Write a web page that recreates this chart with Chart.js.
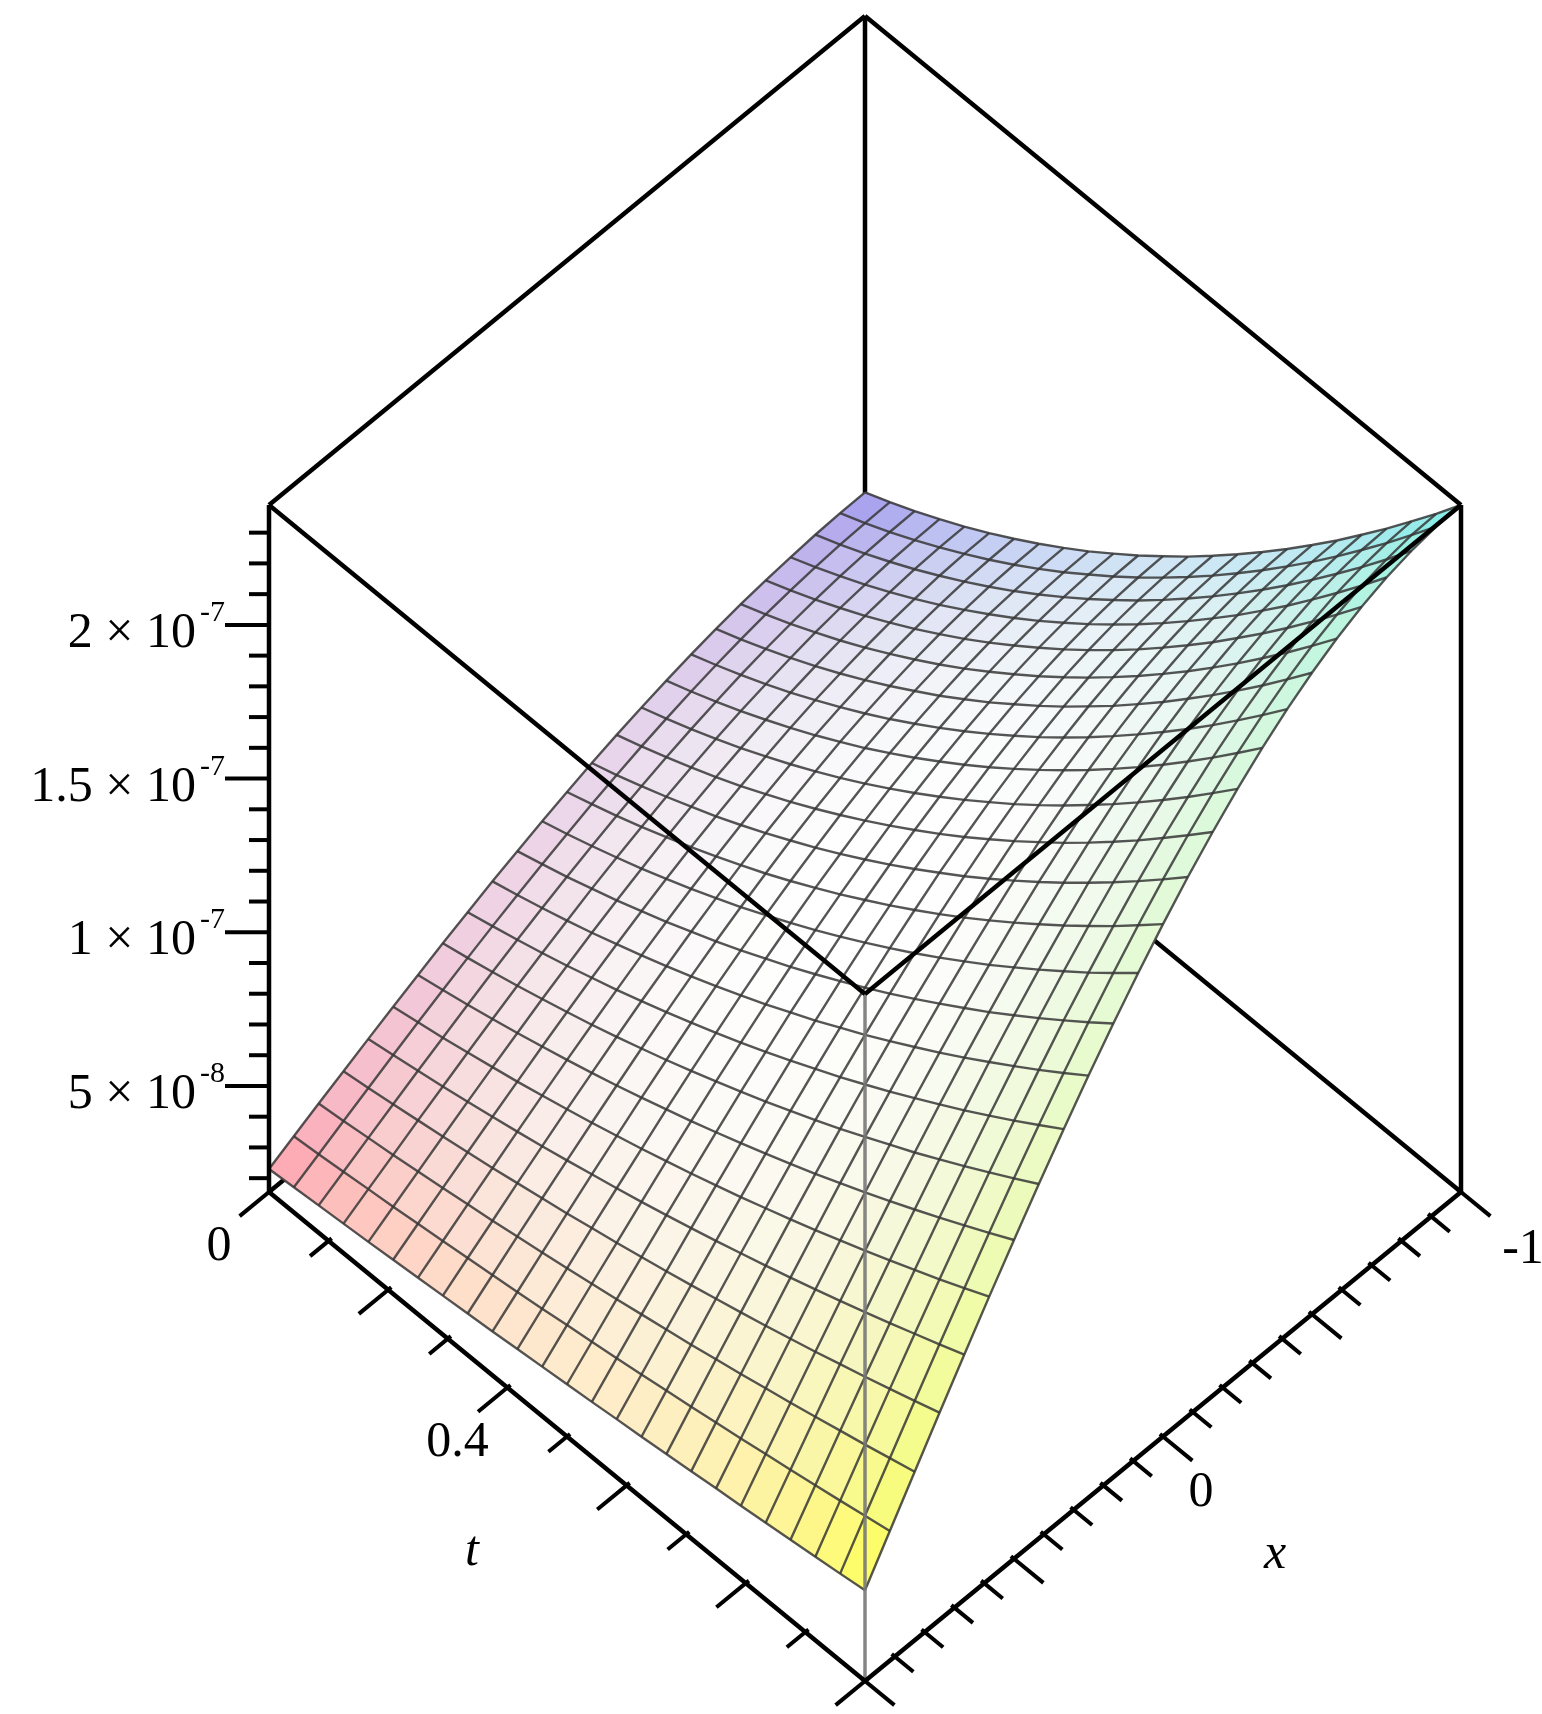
<!DOCTYPE html>
<html><head><meta charset="utf-8">
<script src="https://cdn.jsdelivr.net/npm/chart.js@4"></script>
<style>html,body{margin:0;padding:0;background:#fff;}canvas{display:block;}</style>
</head><body>
<canvas id="c" width="1542" height="1714" style="width:1542px;height:1714px"></canvas>
<script>
// ---- data ----
const T_VALUES = [0,0.0417,0.0833,0.125,0.1667,0.2083,0.25,0.2917,0.3333,0.375,0.4167,0.4583,0.5,0.5417,0.5833,0.625,0.6667,0.7083,0.75,0.7917,0.8333,0.875,0.9167,0.9583,1];
const X_VALUES = [1,0.9167,0.8333,0.75,0.6667,0.5833,0.5,0.4167,0.3333,0.25,0.1667,0.0833,0,-0.0833,-0.1667,-0.25,-0.3333,-0.4167,-0.5,-0.5833,-0.6667,-0.75,-0.8333,-0.9167,-1];
// z values in units of 1e-9, one row per t value, columns follow X_VALUES
const Z_ROWS = [
[23.0,27.0,31.0,34.9,38.8,42.6,46.3,50.0,53.5,56.9,60.1,63.2,66.1,68.9,71.4,73.7,75.8,77.7,79.4,80.8,81.9,82.8,83.5,83.9,84.0],
[23.7,27.8,32.0,36.1,40.2,44.2,48.1,51.9,55.6,59.1,62.5,65.7,68.8,71.6,74.3,76.7,78.9,80.9,82.6,84.1,85.3,86.2,86.9,87.3,87.5],
[24.4,28.7,33.1,37.4,41.7,45.8,49.9,53.9,57.8,61.5,65.0,68.4,71.6,74.6,77.4,79.9,82.2,84.3,86.1,87.6,88.9,89.9,90.6,91.0,91.2],
[25.1,29.7,34.2,38.8,43.2,47.6,51.9,56.1,60.1,64.0,67.8,71.3,74.6,77.8,80.7,83.4,85.8,87.9,89.8,91.5,92.8,93.8,94.6,95.0,95.2],
[25.8,30.6,35.4,40.2,44.9,49.5,54.0,58.4,62.6,66.7,70.6,74.3,77.9,81.2,84.2,87.0,89.6,91.8,93.8,95.5,96.9,98.0,98.8,99.3,99.4],
[26.6,31.7,36.7,41.7,46.6,51.4,56.2,60.8,65.3,69.6,73.7,77.6,81.3,84.7,87.9,90.9,93.6,96.0,98.0,99.8,101.3,102.4,103.3,103.8,103.9],
[27.4,32.7,38.0,43.2,48.4,53.5,58.5,63.3,68.0,72.6,76.9,81.0,84.9,88.5,91.9,95.0,97.8,100.3,102.5,104.4,105.9,107.1,108.0,108.5,108.7],
[28.2,33.8,39.3,44.9,50.3,55.7,60.9,66.0,71.0,75.7,80.3,84.6,88.7,92.5,96.0,99.3,102.3,104.9,107.2,109.2,110.8,112.1,113.0,113.5,113.7],
[29.0,34.9,40.8,46.6,52.3,57.9,63.4,68.8,74.0,79.0,83.8,88.3,92.6,96.7,100.4,103.8,106.9,109.7,112.2,114.2,115.9,117.3,118.2,118.8,119.0],
[29.8,36.0,42.2,48.3,54.4,60.3,66.1,71.7,77.2,82.5,87.5,92.3,96.8,101.0,105.0,108.6,111.9,114.8,117.3,119.5,121.3,122.7,123.7,124.3,124.5],
[30.7,37.2,43.7,50.2,56.5,62.7,68.9,74.8,80.5,86.1,91.4,96.4,101.2,105.6,109.8,113.6,117.0,120.1,122.8,125.1,127.0,128.4,129.5,130.2,130.4],
[31.6,38.5,45.3,52.0,58.7,65.3,71.7,78.0,84.0,89.8,95.4,100.7,105.7,110.4,114.8,118.8,122.4,125.6,128.4,130.9,132.9,134.4,135.5,136.2,136.4],
[32.5,39.7,46.9,54.0,61.0,67.9,74.7,81.3,87.6,93.8,99.6,105.2,110.5,115.4,120.0,124.2,128.0,131.4,134.4,136.9,139.0,140.6,141.8,142.5,142.8],
[33.4,41.0,48.6,56.0,63.4,70.7,77.8,84.7,91.4,97.8,104.0,109.9,115.4,120.6,125.4,129.8,133.8,137.4,140.5,143.2,145.4,147.1,148.3,149.1,149.3],
[34.4,42.3,50.3,58.1,65.9,73.5,81.0,88.3,95.3,102.1,108.5,114.7,120.5,126.0,131.0,135.7,139.9,143.6,146.9,149.7,152.0,153.8,155.1,155.9,156.2],
[35.3,43.7,52.0,60.3,68.5,76.5,84.3,91.9,99.3,106.4,113.2,119.7,125.8,131.5,136.9,141.7,146.2,150.1,153.6,156.5,158.9,160.8,162.2,163.0,163.3],
[36.3,45.1,53.9,62.5,71.1,79.5,87.7,95.7,103.5,111.0,118.1,124.9,131.3,137.3,142.9,148.0,152.7,156.8,160.4,163.5,166.1,168.1,169.5,170.4,170.7],
[37.3,46.6,55.7,64.8,73.8,82.6,91.3,99.7,107.8,115.7,123.2,130.3,137.0,143.3,149.2,154.5,159.4,163.8,167.6,170.8,173.5,175.6,177.1,178.0,178.3],
[38.4,48.0,57.7,67.2,76.6,85.9,94.9,103.8,112.3,120.5,128.4,135.8,142.9,149.5,155.6,161.3,166.4,171.0,174.9,178.3,181.1,183.3,184.9,185.9,186.2],
[39.4,49.6,59.6,69.6,79.5,89.2,98.7,107.9,116.9,125.5,133.7,141.6,149.0,155.9,162.3,168.2,173.6,178.4,182.6,186.1,189.1,191.4,193.0,194.0,194.3],
[40.5,51.1,61.7,72.2,82.5,92.7,102.6,112.3,121.6,130.7,139.3,147.5,155.2,162.5,169.2,175.4,181.0,186.0,190.4,194.1,197.2,199.6,201.4,202.4,202.8],
[41.6,52.7,63.8,74.7,85.5,96.2,106.6,116.7,126.5,136.0,145.0,153.6,161.7,169.3,176.3,182.8,188.7,193.9,198.5,202.4,205.6,208.2,210.0,211.1,211.4],
[42.7,54.3,65.9,77.4,88.7,99.8,110.7,121.3,131.5,141.4,150.9,159.8,168.3,176.3,183.7,190.4,196.6,202.1,206.8,210.9,214.3,217.0,218.8,220.0,220.4],
[43.8,56.0,68.1,80.1,91.9,103.5,114.9,126.0,136.7,147.0,156.9,166.3,175.2,183.5,191.2,198.3,204.7,210.4,215.4,219.7,223.2,226.0,227.9,229.2,229.5],
[45.0,57.7,70.3,82.9,95.2,107.4,119.2,130.8,142.0,152.8,163.1,172.9,182.2,190.9,198.9,206.3,213.0,219.0,224.2,228.7,232.4,235.3,237.3,238.6,239.0]
];
const Z_UNIT = 1e-9;
const T_RANGE = [0, 1];
const X_RANGE = [-1, 1];
const Z_RANGE = [1.55e-8, 2.39e-7];
const T_TICKS = [0,0.1,0.2,0.3,0.4,0.5,0.6,0.7,0.8,0.9,1];
const T_TICK_LABELS = {0:'0', 0.4:'0.4'};
const X_TICKS = [1,0.9,0.8,0.7,0.6,0.5,0.4,0.3,0.2,0.1,0,-0.1,-0.2,-0.3,-0.4,-0.5,-0.6,-0.7,-0.8,-0.9,-1];
const X_TICK_LABELS = {'0':'0', '-1':'-1'};
const Z_MINOR_TICKS = [2e-8,3e-8,4e-8,5e-8,6e-8,7e-8,8e-8,9e-8,1e-7,1.1e-7,1.2e-7,1.3e-7,1.4e-7,1.5e-7,1.6e-7,1.7e-7,1.8e-7,1.9e-7,2e-7,2.1e-7,2.2e-7,2.3e-7];
const Z_MAJOR_TICKS = [5e-8,1e-7,1.5e-7,2e-7];
const Z_TICK_MANT = ['5','1','1.5','2'];
const Z_TICK_EXP = ['-8','-7','-7','-7'];

// ---- view (layout of the box on the page) ----
const VIEW = {x0:269, y0:1192, w:596, d:489, h:687};
function proj(t, x, z){
  const a = (t - T_RANGE[0])/(T_RANGE[1]-T_RANGE[0]);
  const b = (X_RANGE[1] - x)/(X_RANGE[1]-X_RANGE[0]);
  const c = (z - Z_RANGE[0])/(Z_RANGE[1]-Z_RANGE[0]);
  return {x: VIEW.x0 + VIEW.w*a + VIEW.w*b, y: VIEW.y0 + VIEW.d*a - VIEW.d*b - VIEW.h*c};
}
const zAt = (i,j) => Z_ROWS[i][j]*Z_UNIT;

function surfColor(t, x){
  const a=(t-T_RANGE[0])/(T_RANGE[1]-T_RANGE[0]), b=(X_RANGE[1]-x)/(X_RANGE[1]-X_RANGE[0]);
  const c00=[255,150,165], c10=[255,255,70], c11=[110,235,230], c01=[150,140,235];
  const col=[0,1,2].map(k=>c00[k]*(1-a)*(1-b)+c10[k]*a*(1-b)+c11[k]*a*b+c01[k]*(1-a)*b);
  const s=Math.min(1,(((2*a-1)**2+(2*b-1)**2)/2));
  const sat=0.9*Math.pow(s,1.1);
  return 'rgb('+col.map(v=>Math.round(255*(1-sat)+v*sat)).join(',')+')';
}

// ---- datasets: mesh lines ----
const datasets=[];
const meshStyle={borderColor:'rgba(55,55,55,0.85)',borderWidth:2.4,pointRadius:0,showLine:true,fill:false,tension:0};
for(let i=0;i<T_VALUES.length;i++){
  datasets.push(Object.assign({data:X_VALUES.map((x,j)=>proj(T_VALUES[i],x,zAt(i,j)))},meshStyle));
}
for(let j=0;j<X_VALUES.length;j++){
  datasets.push(Object.assign({data:T_VALUES.map((t,i)=>proj(t,X_VALUES[j],zAt(i,j)))},meshStyle));
}

function line(ctx,sx,sy,p,q,color,w){
  ctx.save();ctx.strokeStyle=color;ctx.lineWidth=w;ctx.beginPath();
  ctx.moveTo(sx.getPixelForValue(p.x),sy.getPixelForValue(p.y));
  ctx.lineTo(sx.getPixelForValue(q.x),sy.getPixelForValue(q.y));ctx.stroke();ctx.restore();
}
const [T0,T1]=T_RANGE,[XL,XH]=X_RANGE,[Z0,Z1]=Z_RANGE;

const surfacePlugin={
  id:'surface',
  beforeDatasetsDraw(chart){
    const ctx=chart.ctx, sx=chart.scales.x, sy=chart.scales.y;
    line(ctx,sx,sy,proj(T0,XL,Z0),proj(T0,XL,Z1),'#000',4.5);
    line(ctx,sx,sy,proj(T0,XL,Z0),proj(T1,XL,Z0),'#000',4.5);
    line(ctx,sx,sy,proj(T0,XL,Z0),proj(T0,XH,Z0),'#000',4.5);
    const quads=[];
    for(let i=0;i<T_VALUES.length-1;i++)for(let j=0;j<X_VALUES.length-1;j++){
      quads.push({i,j,depth:(T_VALUES[i]+T_VALUES[i+1])/2+(X_VALUES[j]+X_VALUES[j+1])/4});
    }
    quads.sort((a,b)=>a.depth-b.depth);
    ctx.save();
    for(const q of quads){
      const {i,j}=q;
      const pts=[[i,j],[i,j+1],[i+1,j+1],[i+1,j]].map(([a,b])=>proj(T_VALUES[a],X_VALUES[b],zAt(a,b)));
      const col=surfColor((T_VALUES[i]+T_VALUES[i+1])/2,(X_VALUES[j]+X_VALUES[j+1])/2);
      ctx.fillStyle=col;ctx.strokeStyle=col;ctx.lineWidth=1;
      ctx.beginPath();
      pts.forEach((p,k)=>{const X=sx.getPixelForValue(p.x),Y=sy.getPixelForValue(p.y);k?ctx.lineTo(X,Y):ctx.moveTo(X,Y);});
      ctx.closePath();ctx.fill();ctx.stroke();
    }
    ctx.restore();
  },
  afterDatasetsDraw(chart){
    const ctx=chart.ctx, sx=chart.scales.x, sy=chart.scales.y;
    const px=p=>[sx.getPixelForValue(p.x),sy.getPixelForValue(p.y)];
    line(ctx,sx,sy,proj(T1,XH,Z0),proj(T1,XH,Z1),'rgba(120,120,120,0.9)',3.5);
    line(ctx,sx,sy,proj(T0,XH,Z1),proj(T0,XL,Z1),'#000',4.5);
    line(ctx,sx,sy,proj(T0,XL,Z1),proj(T1,XL,Z1),'#000',4.5);
    line(ctx,sx,sy,proj(T0,XH,Z1),proj(T1,XH,Z1),'#000',4.5);
    line(ctx,sx,sy,proj(T1,XH,Z1),proj(T1,XL,Z1),'#000',4.5);
    line(ctx,sx,sy,proj(T0,XH,Z0),proj(T0,XH,Z1),'#000',4.5);
    line(ctx,sx,sy,proj(T1,XL,Z0),proj(T1,XL,Z1),'#000',4.5);
    line(ctx,sx,sy,proj(T0,XH,Z0),proj(T1,XH,Z0),'#000',4.5);
    line(ctx,sx,sy,proj(T1,XH,Z0),proj(T1,XL,Z0),'#000',4.5);

    ctx.save();ctx.strokeStyle='#000';ctx.lineWidth=4;ctx.fillStyle='#000';
    for(const z of Z_MINOR_TICKS){
      const [X,Y]=px(proj(T0,XH,z));
      const major=Z_MAJOR_TICKS.some(m=>Math.abs(m-z)<1e-12);
      ctx.beginPath();ctx.moveTo(X,Y);ctx.lineTo(X-(major?44:20),Y);ctx.stroke();
    }
    Z_MAJOR_TICKS.forEach((z,k)=>{
      const [X,Y]=px(proj(T0,XH,z));
      ctx.font='30px "Liberation Serif"';ctx.textAlign='right';ctx.textBaseline='alphabetic';
      const ex=Z_TICK_EXP[k];
      ctx.fillText(ex,X-44,Y-4);
      const ew=ctx.measureText(ex).width;
      ctx.font='50px "Liberation Serif"';
      ctx.fillText(Z_TICK_MANT[k]+' \u00d7 10',X-48-ew,Y+22);
    });
    const ox=proj(T0,XH,Z0), oy=proj(T0,XL,Z0);
    let dx=px(ox)[0]-px(oy)[0], dy=px(ox)[1]-px(oy)[1]; let L=Math.hypot(dx,dy); dx/=L;dy/=L;
    T_TICKS.forEach((t,k)=>{
      const [X,Y]=px(proj(t,XH,Z0));
      const len=(k%2===0)?38:24;
      ctx.beginPath();ctx.moveTo(X-dx*4,Y-dy*4);ctx.lineTo(X+dx*len,Y+dy*len);ctx.stroke();
    });
    const a1=proj(T1,XH,Z0), a0=proj(T0,XH,Z0);
    let ex=px(a1)[0]-px(a0)[0], ey=px(a1)[1]-px(a0)[1]; L=Math.hypot(ex,ey); ex/=L;ey/=L;
    X_TICKS.forEach((x,k)=>{
      const [X,Y]=px(proj(T1,x,Z0));
      const len=(k%5===0)?38:24;
      ctx.beginPath();ctx.moveTo(X-ex*4,Y-ey*4);ctx.lineTo(X+ex*len,Y+ey*len);ctx.stroke();
    });
    ctx.font='50px "Liberation Serif"';ctx.textAlign='center';ctx.textBaseline='middle';
    for(const t of T_TICKS){ if(T_TICK_LABELS[t]!==undefined){
      const [X,Y]=px(proj(t,XH,Z0)); ctx.fillText(T_TICK_LABELS[t],X-50,Y+55);
    }}
    for(const x of X_TICKS){ const key=String(x); if(X_TICK_LABELS[key]!==undefined){
      const [X,Y]=px(proj(T1,x,Z0)); ctx.fillText(X_TICK_LABELS[key],X+(x===-1?62:38),Y+(x===-1?58:56));
    }}
    ctx.font='italic 50px "Liberation Serif"';
    { const [X,Y]=px(proj(0.5,XH,Z0)); ctx.fillText('t',X-95,Y+115); }
    { const [X,Y]=px(proj(T1,0,Z0)); ctx.fillText('x',X+112,Y+118); }
    ctx.restore();
  }
};

new Chart(document.getElementById('c'),{
  type:'scatter',
  data:{datasets},
  options:{
    responsive:false,animation:false,devicePixelRatio:1,
    layout:{padding:0},
    plugins:{legend:{display:false},tooltip:{enabled:false}},
    scales:{
      x:{type:'linear',min:0,max:1542,display:false},
      y:{type:'linear',min:0,max:1714,reverse:true,display:false}
    }
  },
  plugins:[surfacePlugin]
});
</script>
</body></html>
